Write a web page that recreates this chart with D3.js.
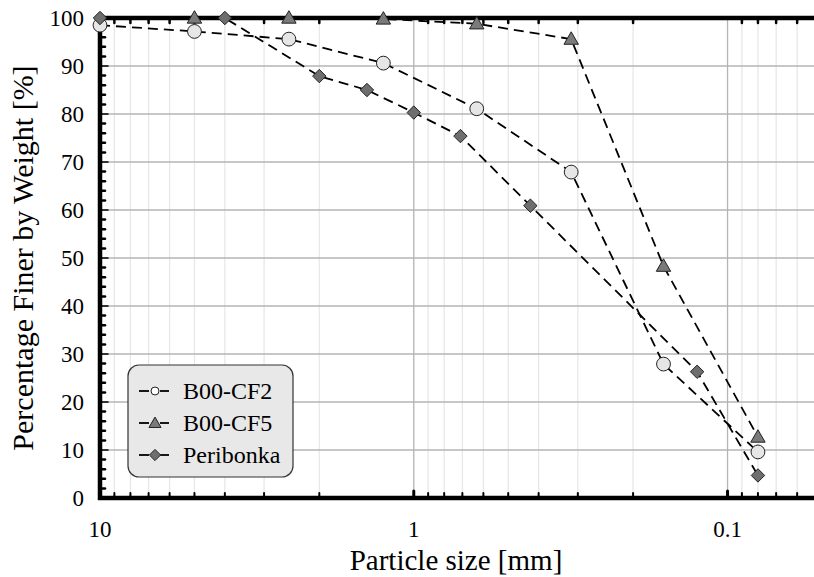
<!DOCTYPE html>
<html><head><meta charset="utf-8">
<script src="https://cdn.jsdelivr.net/npm/d3@7"></script>
</head><body style="margin:0">
<svg id="c" width="814" height="577" style="display:block"></svg>
<script>
// ---- data ----
const sizesCF2 = [10, 5, 2.5, 1.25, 0.63, 0.315, 0.16, 0.08];
const valuesCF2 = [98.5, 97.2, 95.6, 90.6, 81.1, 67.9, 27.9, 9.6];
const sizesCF5 = [5, 2.5, 1.25, 0.63, 0.315, 0.16, 0.08];
const valuesCF5 = [100, 100, 99.8, 98.8, 95.6, 48.3, 12.7];
const sizesPer = [10, 4, 2, 1.41, 1, 0.71, 0.425, 0.125, 0.08];
const valuesPer = [100, 100, 87.9, 85, 80.3, 75.4, 60.9, 26.3, 4.7];
const seriesNames = ["B00-CF2", "B00-CF5", "Peribonka"];
const xTickValues = [10, 1, 0.1];
const xTickLabels = ["10", "1", "0.1"];
const yTickValues = [0, 10, 20, 30, 40, 50, 60, 70, 80, 90, 100];

const svg = d3.select("#c");
const FONT = "'Liberation Serif', 'Times New Roman', serif";
const L = 100, R = 822, T = 18, B = 498;
const x = d3.scaleLog().domain([10, 0.05]).range([L, R]);
const y = d3.scaleLinear().domain([0, 100]).range([B, T]);

const minorX = [];
[10, 1, 0.1].forEach(d => { for (let k = 2; k <= 9; k++) { const v = d * k / 10; if (v >= 0.05) minorX.push(v); } });
const minorY = d3.range(0, 101, 2).filter(v => v % 10 !== 0);

// grid
const g = svg.append("g");
g.selectAll(".mgx").data(minorX).join("line")
  .attr("x1", d => x(d)).attr("x2", d => x(d)).attr("y1", T).attr("y2", B)
  .attr("stroke", "#e6e6e6").attr("stroke-width", 1.2);
g.selectAll(".gx").data(xTickValues).join("line")
  .attr("x1", d => x(d)).attr("x2", d => x(d)).attr("y1", T).attr("y2", B)
  .attr("stroke", "#b4b4b4").attr("stroke-width", 1.3);
g.selectAll(".gy").data(yTickValues).join("line")
  .attr("x1", L).attr("x2", 814).attr("y1", d => y(d)).attr("y2", d => y(d))
  .attr("stroke", "#b4b4b4").attr("stroke-width", 1.3);

// ticks
const tk = svg.append("g").attr("stroke", "#000").attr("stroke-linecap", "round");
tk.selectAll(".tb").data(minorX).join("line")
  .attr("x1", d => x(d)).attr("x2", d => x(d)).attr("y1", B).attr("y2", B - 5).attr("stroke-width", 2);
tk.selectAll(".tt").data(minorX).join("line")
  .attr("x1", d => x(d)).attr("x2", d => x(d)).attr("y1", T).attr("y2", T + 5).attr("stroke-width", 2.5);
tk.selectAll(".tbM").data(xTickValues.slice(1)).join("line")
  .attr("x1", d => x(d)).attr("x2", d => x(d)).attr("y1", B).attr("y2", B - 7).attr("stroke-width", 3);
tk.selectAll(".ty").data(minorY).join("line")
  .attr("x1", L).attr("x2", L + 5).attr("y1", d => y(d)).attr("y2", d => y(d)).attr("stroke-width", 2.5);
tk.selectAll(".tyM").data(yTickValues).join("line")
  .attr("x1", L).attr("x2", L + 8).attr("y1", d => y(d)).attr("y2", d => y(d)).attr("stroke-width", 1.5);

// axis lines
svg.append("line").attr("x1", L - 2).attr("x2", 814).attr("y1", T).attr("y2", T).attr("stroke", "#000").attr("stroke-width", 4.5);
svg.append("line").attr("x1", L - 2).attr("x2", 814).attr("y1", B).attr("y2", B).attr("stroke", "#000").attr("stroke-width", 4.5);
svg.append("line").attr("x1", L).attr("x2", L).attr("y1", T).attr("y2", B + 2).attr("stroke", "#000").attr("stroke-width", 4.5);

// text
const tl = svg.append("g").attr("font-family", FONT);
tl.selectAll(".xl").data(xTickValues).join("text")
  .attr("x", d => x(d)).attr("y", 537).attr("text-anchor", "middle")
  .attr("font-size", 23).text((d, i) => xTickLabels[i]);
tl.selectAll(".yl").data(yTickValues).join("text")
  .attr("x", 84).attr("y", d => y(d) + 8).attr("text-anchor", "end")
  .attr("font-size", 23).text(d => d);
tl.append("text").attr("x", 456).attr("y", 570).attr("text-anchor", "middle")
  .attr("font-size", 29).text("Particle size [mm]");
tl.append("text").attr("transform", "translate(33,258) rotate(-90)").attr("text-anchor", "middle")
  .attr("font-size", 30).text("Percentage Finer by Weight [%]");

// series
const diamond = { draw(ctx, size) { const r = Math.sqrt(size / 2); ctx.moveTo(0, -r); ctx.lineTo(r, 0); ctx.lineTo(0, r); ctx.lineTo(-r, 0); ctx.closePath(); } };
const series = [
  { name: seriesNames[0], xs: sizesCF2, ys: valuesCF2, sym: d3.symbolCircle, size: 150, fill: "#e6e6e6", dy: 0 },
  { name: seriesNames[1], xs: sizesCF5, ys: valuesCF5, sym: d3.symbolTriangle, size: 90, fill: "#7a7a7a", dy: 1 },
  { name: seriesNames[2], xs: sizesPer, ys: valuesPer, sym: diamond, size: 90, fill: "#6e6e6e", dy: 0 }
];
const line = d3.line().x(d => x(d[0])).y(d => y(d[1]));
series.forEach(s => {
  const pts = s.xs.map((v, i) => [v, s.ys[i]]);
  svg.append("path").datum(pts).attr("d", line).attr("fill", "none")
    .attr("stroke", "#000").attr("stroke-width", 1.8).attr("stroke-dasharray", "10,6");
});
series.forEach(s => {
  const pts = s.xs.map((v, i) => [v, s.ys[i]]);
  svg.selectAll(null).data(pts).join("path")
    .attr("transform", d => `translate(${x(d[0])},${y(d[1]) + s.dy})`)
    .attr("d", d3.symbol().type(s.sym).size(s.size))
    .attr("fill", s.fill).attr("stroke", "#222").attr("stroke-width", 1);
});

// legend
const lg = svg.append("g");
lg.append("rect").attr("x", 128).attr("y", 365).attr("width", 165).attr("height", 112)
  .attr("rx", 11).attr("fill", "#e8e8e8").attr("stroke", "#333").attr("stroke-width", 1.2);
series.forEach((s, i) => {
  const cy = 391 + i * 32;
  lg.append("line").attr("x1", 139).attr("x2", 149).attr("y1", cy).attr("y2", cy).attr("stroke", "#000").attr("stroke-width", 1.8);
  lg.append("line").attr("x1", 160).attr("x2", 169).attr("y1", cy).attr("y2", cy).attr("stroke", "#000").attr("stroke-width", 1.8);
  lg.append("path").attr("transform", `translate(155,${cy + s.dy})`)
    .attr("d", d3.symbol().type(s.sym).size(i === 0 ? 50 : s.size * 0.7))
    .attr("fill", i === 0 ? "#fff" : s.fill).attr("stroke", "#222").attr("stroke-width", 1);
  lg.append("text").attr("x", 183).attr("y", cy + 8)
    .attr("font-family", FONT).attr("font-size", 24).text(s.name);
});
</script>
</body></html>
